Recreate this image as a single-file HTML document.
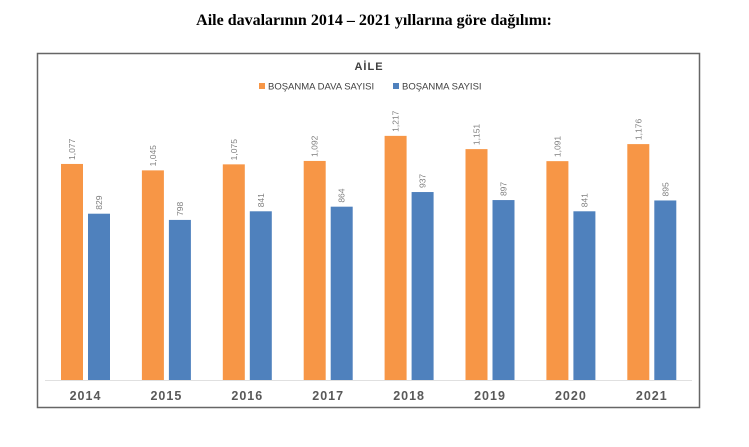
<!DOCTYPE html>
<html><head><meta charset="utf-8"><style>
body{margin:0;width:749px;height:442px;background:#fff;overflow:hidden}
</style></head><body>
<svg width="749" height="442" xmlns="http://www.w3.org/2000/svg">
<text x="374" y="25" text-anchor="middle" font-family="Liberation Serif, serif" font-weight="bold" font-size="16" fill="#000">Aile davalarının 2014 – 2021 yıllarına göre dağılımı:</text>
<rect x="37.5" y="53.5" width="662" height="354" fill="#fff" stroke="#666" stroke-width="1.5"/>
<text x="369" y="70" text-anchor="middle" font-family="Liberation Sans, sans-serif" font-weight="bold" font-size="11" letter-spacing="1" fill="#404040">AİLE</text>
<rect x="259" y="83" width="6" height="6" fill="#f79646"/>
<text x="268" y="89.5" font-family="Liberation Sans, sans-serif" font-size="9.5" fill="#404040">BOŞANMA DAVA SAYISI</text>
<rect x="393" y="83" width="6" height="6" fill="#4f81bd"/>
<text x="402" y="89.5" font-family="Liberation Sans, sans-serif" font-size="9.5" fill="#404040">BOŞANMA SAYISI</text>
<line x1="45" y1="380.5" x2="692" y2="380.5" stroke="#e0e0e0" stroke-width="1"/>
<g font-family="Liberation Sans, sans-serif" font-size="8.5" fill="#7f7f7f" id="bars"></g>
<g font-family="Liberation Sans, sans-serif" font-size="12.5" font-weight="bold" fill="#595959" letter-spacing="1" text-anchor="middle" id="years"></g>
</svg>
<script>
var d=[[2014,1077,829],[2015,1045,798],[2016,1075,841],[2017,1092,864],[2018,1217,937],[2019,1151,897],[2020,1091,841],[2021,1176,895]];
var b=document.getElementById("bars"),y=document.getElementById("years"),s="",ys="";
d.forEach(function(r,i){var x=61+i*80.9;
[[r[1],"#f79646",x],[r[2],"#4f81bd",x+27]].forEach(function(q){var h=q[0]*0.2006,t=380-h;
s+='<rect x="'+q[2]+'" y="'+t+'" width="22" height="'+h+'" fill="'+q[1]+'"/>';
var cx=q[2]+14,cy=t-4;s+='<text transform="translate('+cx+','+cy+') rotate(-90)">'+(q[0]>=1000?String(q[0]).replace(/(\d)(\d{3})$/,"$1,$2"):q[0])+'</text>';});
ys+='<text x="'+(x+24.5)+'" y="400">'+r[0]+'</text>';});
b.innerHTML=s;y.innerHTML=ys;
</script>
</body></html>
